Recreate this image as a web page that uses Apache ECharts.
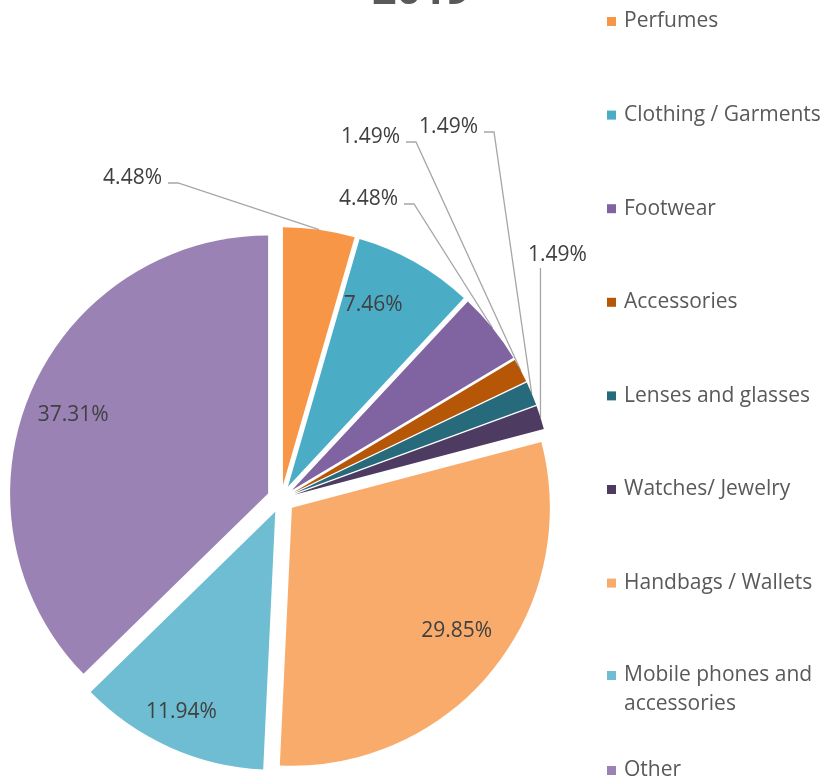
<!DOCTYPE html>
<html>
<head>
<meta charset="utf-8">
<script src="https://cdn.jsdelivr.net/npm/echarts@6/dist/echarts.min.js"></script>
<style>
html, body { margin: 0; padding: 0; background: #fff; }
#chart { width: 823px; height: 778px; }
</style>
</head>
<body>
<div id="chart"></div>
<script>
// data (share of products, %)
const categories = ['Perfumes', 'Clothing / Garments', 'Footwear', 'Accessories', 'Lenses and glasses',
  'Watches/ Jewelry', 'Handbags / Wallets', 'Mobile phones and accessories', 'Other']
const shares = [4.48, 7.46, 4.48, 1.49, 1.49, 1.49, 29.85, 11.94, 37.31]
const colors = ['#F79646', '#4BACC6', '#8064A2', '#B65708', '#276A7C', '#4D3B62', '#F9AB6B', '#6FBDD2', '#9A82B5']
const titleText = '2019'

const FONT = '"Open Sans", "Noto Sans", sans-serif'
const R = 258
const EXPLODE = 14
// small slices get their labels outside, placed like in the original (right edge x, middle y)
const outsidePos = {
  0: [162, 178],
  2: [398, 199],
  3: [400, 137],
  4: [478, 127],
  5: [528, 255]
}
// little nudges for the labels inside the big slices
const innerNudge = {
  1: [-18, 0],
  6: [2, -8],
  7: [-8, 9],
  8: [-2, 3]
}

// mid angle of every slice, clockwise from 12 o'clock
const total = shares.reduce((a, b) => a + b, 0)
let acc = 0
const midAngles = shares.map(v => {
  const a = (acc + v / 2) / total * Math.PI * 2
  acc += v
  return a
})

const pieData = categories.map((name, i) => {
  const inside = outsidePos[i] === undefined
  return {
    name: name,
    value: shares[i],
    selected: true,
    itemStyle: { color: colors[i] },
    label: { position: inside ? 'inside' : 'outside' },
    labelLine: { show: !inside }
  }
})

const legendText = {
  fontFamily: FONT,
  fontSize: 21,
  color: '#595959',
  lineHeight: 29,
  padding: [0, 0, 0, 3]
}
const legendBase = {
  orient: 'vertical',
  left: 607,
  padding: 0,
  icon: 'rect',
  itemWidth: 9,
  itemHeight: 9,
  itemGap: 64.6,
  textStyle: legendText
}

const chart = echarts.init(document.getElementById('chart'))
chart.setOption({
  animation: false,
  title: {
    text: titleText,
    left: 372,
    top: -30,
    padding: 0,
    textStyle: { fontFamily: FONT, fontSize: 43, fontWeight: 'bold', color: '#595959' }
  },
  legend: [
    Object.assign({}, legendBase, { top: 7, data: categories.slice(0, 7) }),
    // two-line item: empty first line keeps "Mobile phones and" level with the marker
    Object.assign({}, legendBase, {
      top: 632,
      data: [categories[7]],
      formatter: () => '\nMobile phones and\naccessories'
    }),
    Object.assign({}, legendBase, { top: 756, data: [categories[8]] })
  ],
  series: [{
    type: 'pie',
    center: [281, 499],
    radius: R,
    startAngle: 90,
    clockwise: true,
    selectedMode: 'multiple',
    selectedOffset: EXPLODE,
    avoidLabelOverlap: false,
    emphasis: { disabled: true },
    label: {
      fontFamily: FONT,
      fontSize: 21,
      color: '#404040',
      formatter: p => p.value.toFixed(2) + '%'
    },
    labelLine: {
      lineStyle: { color: '#A6A6A6', width: 1.3 }
    },
    labelLayout: function (params) {
      const i = params.dataIndex
      const a = midAngles[i]
      const pos = outsidePos[i]
      if (pos === undefined) {
        // push inner labels out to ~0.8 of the radius
        const n = innerNudge[i] || [0, 0]
        return {
          dx: 0.3 * R * Math.sin(a) + n[0],
          dy: -0.3 * R * Math.cos(a) + n[1]
        }
      }
      // label and leader line are both shifted with the exploded slice
      const ox = EXPLODE * Math.sin(a)
      const oy = -EXPLODE * Math.cos(a)
      const rect = params.labelRect
      const anchor = params.labelLinePoints ? params.labelLinePoints[0] : [0, 0]
      const dy = pos[1] - (rect.y + rect.height / 2) - oy
      if (i === 5) {
        const p = [anchor[0], pos[1] + 13 - oy]
        return {
          dx: pos[0] - rect.x - ox,
          dy: dy,
          labelLinePoints: [anchor, p, p]
        }
      }
      return {
        dx: pos[0] - (rect.x + rect.width) - ox,
        dy: dy,
        labelLinePoints: [
          anchor,
          [pos[0] + 16 - ox, pos[1] + 5 - oy],
          [pos[0] + 6 - ox, pos[1] + 5 - oy]
        ]
      }
    },
    data: pieData
  }]
})
</script>
</body>
</html>
